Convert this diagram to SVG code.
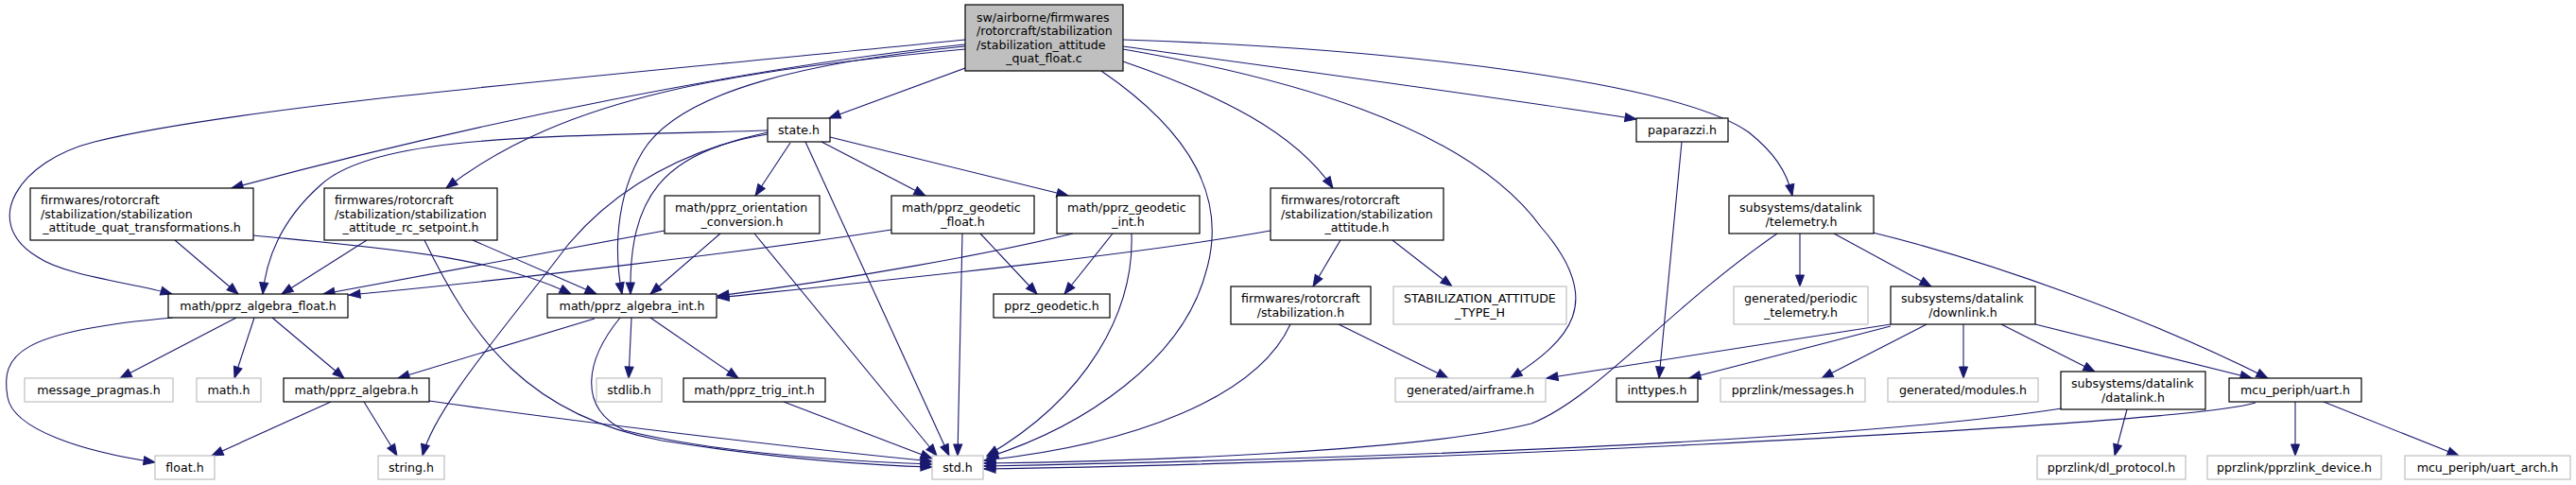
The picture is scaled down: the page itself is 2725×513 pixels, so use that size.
<svg xmlns="http://www.w3.org/2000/svg" width="2725" height="513" viewBox="0 0 2725 513">
<defs>
<marker id="a" markerUnits="userSpaceOnUse" markerWidth="13" markerHeight="10" refX="12" refY="4.5" orient="auto" overflow="visible">
<path d="M0,0 L12,4.5 L0,9 z" fill="#191970" stroke="#191970" stroke-width="1"/>
</marker>
<style>
text{font-family:"DejaVu Sans","Liberation Sans",sans-serif;font-size:12.6px;fill:#000}
.c{text-anchor:middle}
rect{fill:#fff;stroke:#000;stroke-width:1.2}
.g rect{stroke:#bfbfbf}
.m rect{fill:#bfbfbf}
#edges path{fill:none;stroke:#191970;stroke-width:1.1;marker-end:url(#a)}
</style>
</defs>
<rect x="0" y="0" width="2725" height="513" style="fill:#fff;stroke:none"/>
<g id="edges">
<path d="M1021,72 L877,125"/>
<path d="M1021,47 C800,70 500,130 245,199"/>
<path d="M1021,52 C780,75 600,100 472,199"/>
<path d="M1021,42 C700,75 260,110 100,150 C20,170 -22,235 40,272 C70,292 140,299 182,311"/>
<path d="M1021,49 C860,65 720,95 680,160 C650,210 650,270 658,311"/>
<path d="M812,138 C600,145 400,140 340,195 C300,230 282,270 278,311"/>
<path d="M812,142 C700,160 665,210 667,311"/>
<path d="M812,140 C720,160 650,200 600,260 C540,340 460,430 447,482"/>
<path d="M836,151 L799,207"/>
<path d="M869,150 L979,207"/>
<path d="M878,145 L1130,207"/>
<path d="M852,150 L1004,482"/>
<path d="M703,244 L342,311"/>
<path d="M762,247 L688,311"/>
<path d="M798,247 L991,482"/>
<path d="M943,243 C800,265 550,295 369,312"/>
<path d="M1037,247 L1097,311"/>
<path d="M1018,247 L1013,482"/>
<path d="M1177,247 L1126,311"/>
<path d="M1135,247 C1050,268 900,295 759,313"/>
<path d="M1197,247 C1200,330 1150,420 1044,482"/>
<path d="M185,254 L252,311"/>
<path d="M268,249 C400,262 520,270 604,311"/>
<path d="M388,254 L298,311"/>
<path d="M500,254 L631,311"/>
<path d="M449,254 C500,360 560,440 700,466 C820,485 920,492 986,494"/>
<path d="M250,336 L127,400"/>
<path d="M269,336 L248,400"/>
<path d="M288,336 L364,400"/>
<path d="M183,336 C20,350 0,375 8,420 C14,455 90,478 164,489"/>
<path d="M629,337 L421,400"/>
<path d="M668,336 L665,400"/>
<path d="M688,336 L781,400"/>
<path d="M656,336 C620,380 610,430 660,455 C760,480 900,488 986,491"/>
<path d="M350,425 L224,482"/>
<path d="M385,425 L420,482"/>
<path d="M454,424 C600,445 850,475 986,488"/>
<path d="M829,425 L986,485"/>
<path d="M1165,75 C1260,140 1300,210 1275,290 C1250,380 1150,450 1044,484"/>
<path d="M1188,65 C1290,100 1370,140 1410,199"/>
<path d="M1188,52 C1350,80 1550,130 1630,240 C1700,320 1660,360 1598,400"/>
<path d="M1188,49 C1400,78 1600,105 1731,126"/>
<path d="M1188,42 C1500,52 1780,90 1850,140 C1875,160 1890,180 1896,207"/>
<path d="M1779,150 L1755,400"/>
<path d="M1418,254 L1389,303"/>
<path d="M1473,254 L1536,303"/>
<path d="M1344,244 C1200,270 950,295 759,315"/>
<path d="M1365,343 C1330,420 1200,470 1041,487"/>
<path d="M1416,343 L1532,400"/>
<path d="M1904,247 L1904,303"/>
<path d="M1940,247 L2043,303"/>
<path d="M1981,246 C2100,275 2270,335 2399,400"/>
<path d="M1880,247 C1760,330 1690,420 1620,448 C1500,478 1200,488 1041,490"/>
<path d="M2000,343 L1636,400"/>
<path d="M2000,345 L1787,400"/>
<path d="M2038,343 L1927,400"/>
<path d="M2077,343 L2077,400"/>
<path d="M2117,343 L2216,393"/>
<path d="M2153,343 L2382,400"/>
<path d="M2250,433 L2237,482"/>
<path d="M2181,432 C2000,460 1600,482 1041,493"/>
<path d="M2428,425 L2428,482"/>
<path d="M2458,425 L2601,482"/>
<path d="M2386,426 C2340,440 2100,455 1800,470 C1500,485 1200,494 1041,496"/>
</g>
<g id="n_main" class="m"><rect x="1021" y="5" width="167" height="70"/>
<text x="1033" y="22.7">sw/airborne/firmwares</text><text x="1033" y="37.1">/rotorcraft/stabilization</text><text x="1033" y="51.5">/stabilization_attitude</text><text class="c" x="1104.5" y="65.9">_quat_float.c</text></g>
<g id="n_state"><rect x="812" y="125" width="66" height="25"/><text class="c" x="845" y="141.8">state.h</text></g>
<g id="n_paparazzi"><rect x="1731" y="125" width="97" height="25"/><text class="c" x="1779.5" y="141.8">paparazzi.h</text></g>
<g id="n_quat_transformations"><rect x="32" y="199" width="236" height="55"/>
<text x="43" y="216.4">firmwares/rotorcraft</text><text x="43" y="230.8">/stabilization/stabilization</text><text class="c" x="150" y="245.2">_attitude_quat_transformations.h</text></g>
<g id="n_rc_setpoint"><rect x="343" y="199" width="183" height="55"/>
<text x="354" y="216.4">firmwares/rotorcraft</text><text x="354" y="230.8">/stabilization/stabilization</text><text class="c" x="434.5" y="245.2">_attitude_rc_setpoint.h</text></g>
<g id="n_orientation"><rect x="703" y="207" width="164" height="40"/>
<text x="714" y="224.1">math/pprz_orientation</text><text class="c" x="785" y="238.5">_conversion.h</text></g>
<g id="n_geodetic_float"><rect x="943" y="207" width="151" height="40"/>
<text x="954" y="224.1">math/pprz_geodetic</text><text class="c" x="1018.5" y="238.5">_float.h</text></g>
<g id="n_geodetic_int"><rect x="1118" y="207" width="151" height="40"/>
<text x="1129" y="224.1">math/pprz_geodetic</text><text class="c" x="1193.5" y="238.5">_int.h</text></g>
<g id="n_stab_attitude"><rect x="1344" y="199" width="183" height="55"/>
<text x="1355" y="216.4">firmwares/rotorcraft</text><text x="1355" y="230.8">/stabilization/stabilization</text><text class="c" x="1435.5" y="245.2">_attitude.h</text></g>
<g id="n_telemetry"><rect x="1829" y="207" width="153" height="40"/>
<text x="1840" y="224.1">subsystems/datalink</text><text class="c" x="1905.5" y="238.5">/telemetry.h</text></g>
<g id="n_algebra_float"><rect x="178" y="311" width="190" height="25"/><text class="c" x="273" y="327.8">math/pprz_algebra_float.h</text></g>
<g id="n_algebra_int"><rect x="579" y="311" width="179" height="25"/><text class="c" x="668.5" y="327.8">math/pprz_algebra_int.h</text></g>
<g id="n_pprz_geodetic"><rect x="1051" y="311" width="123" height="25"/><text class="c" x="1112.5" y="327.8">pprz_geodetic.h</text></g>
<g id="n_stabilization"><rect x="1302" y="303" width="148" height="40"/>
<text x="1313" y="320.1">firmwares/rotorcraft</text><text class="c" x="1376" y="334.5">/stabilization.h</text></g>
<g id="n_type_h" class="g"><rect x="1474" y="303" width="183" height="40"/>
<text x="1485" y="320.1">STABILIZATION_ATTITUDE</text><text class="c" x="1565.5" y="334.5">_TYPE_H</text></g>
<g id="n_periodic" class="g"><rect x="1834" y="303" width="142" height="40"/>
<text x="1845" y="320.1">generated/periodic</text><text class="c" x="1905" y="334.5">_telemetry.h</text></g>
<g id="n_downlink"><rect x="2000" y="303" width="153" height="40"/>
<text x="2011" y="320.1">subsystems/datalink</text><text class="c" x="2076.5" y="334.5">/downlink.h</text></g>
<g id="n_message_pragmas" class="g"><rect x="26" y="400" width="157" height="25"/><text class="c" x="104.5" y="416.8">message_pragmas.h</text></g>
<g id="n_math" class="g"><rect x="208" y="400" width="68" height="25"/><text class="c" x="242" y="416.8">math.h</text></g>
<g id="n_pprz_algebra"><rect x="300" y="400" width="154" height="25"/><text class="c" x="377" y="416.8">math/pprz_algebra.h</text></g>
<g id="n_stdlib" class="g"><rect x="631" y="400" width="69" height="25"/><text class="c" x="665.5" y="416.8">stdlib.h</text></g>
<g id="n_trig_int"><rect x="723" y="400" width="150" height="25"/><text class="c" x="798" y="416.8">math/pprz_trig_int.h</text></g>
<g id="n_airframe" class="g"><rect x="1476" y="400" width="159" height="25"/><text class="c" x="1555.5" y="416.8">generated/airframe.h</text></g>
<g id="n_inttypes"><rect x="1710" y="400" width="86" height="25"/><text class="c" x="1753" y="416.8">inttypes.h</text></g>
<g id="n_messages" class="g"><rect x="1820" y="400" width="153" height="25"/><text class="c" x="1896.5" y="416.8">pprzlink/messages.h</text></g>
<g id="n_modules" class="g"><rect x="1997" y="400" width="159" height="25"/><text class="c" x="2076.5" y="416.8">generated/modules.h</text></g>
<g id="n_datalink"><rect x="2180" y="393" width="153" height="40"/>
<text x="2191" y="410.1">subsystems/datalink</text><text class="c" x="2256.5" y="424.5">/datalink.h</text></g>
<g id="n_uart"><rect x="2358" y="400" width="140" height="25"/><text class="c" x="2428" y="416.8">mcu_periph/uart.h</text></g>
<g id="n_float" class="g"><rect x="164" y="482" width="63" height="25"/><text class="c" x="195.5" y="498.8">float.h</text></g>
<g id="n_string" class="g"><rect x="400" y="482" width="70" height="25"/><text class="c" x="435" y="498.8">string.h</text></g>
<g id="n_std" class="g"><rect x="986" y="482" width="54" height="25"/><text class="c" x="1013" y="498.8">std.h</text></g>
<g id="n_dl_protocol" class="g"><rect x="2155" y="482" width="157" height="25"/><text class="c" x="2233.5" y="498.8">pprzlink/dl_protocol.h</text></g>
<g id="n_pprzlink_device" class="g"><rect x="2335" y="482" width="184" height="25"/><text class="c" x="2427" y="498.8">pprzlink/pprzlink_device.h</text></g>
<g id="n_uart_arch" class="g"><rect x="2544" y="482" width="175" height="25"/><text class="c" x="2631.5" y="498.8">mcu_periph/uart_arch.h</text></g>
</svg>
